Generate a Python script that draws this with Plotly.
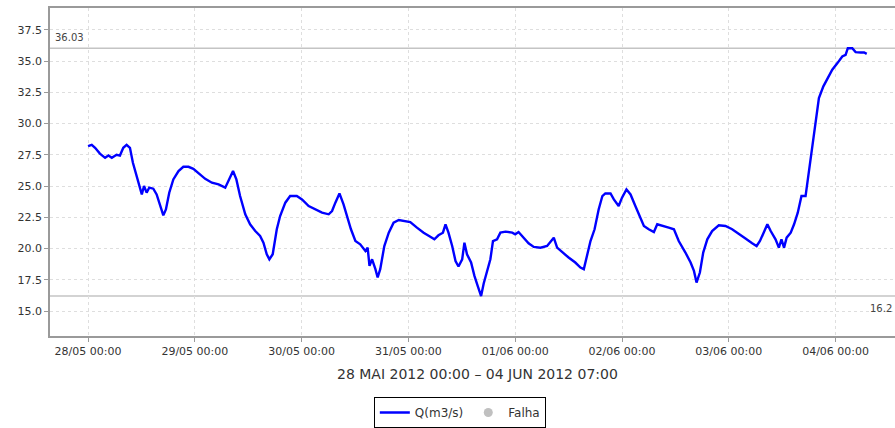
import plotly.graph_objects as go

# Vazão Q (m3/s), 28/05/2012 00:00 – 04/06/2012 07:00
times = [
    "2012-05-28 00:00", "2012-05-28 00:50", "2012-05-28 01:35", "2012-05-28 02:40", "2012-05-28 03:50",
    "2012-05-28 04:35", "2012-05-28 05:20", "2012-05-28 06:25", "2012-05-28 07:10", "2012-05-28 07:55",
    "2012-05-28 08:40", "2012-05-28 09:25", "2012-05-28 10:05", "2012-05-28 10:50", "2012-05-28 11:30",
    "2012-05-28 12:05", "2012-05-28 12:35", "2012-05-28 13:10", "2012-05-28 13:45", "2012-05-28 14:40",
    "2012-05-28 15:25", "2012-05-28 16:10", "2012-05-28 16:55", "2012-05-28 17:30", "2012-05-28 18:15",
    "2012-05-28 19:10", "2012-05-28 20:20", "2012-05-28 21:25", "2012-05-28 22:35", "2012-05-28 23:40",
    "2012-05-29 00:50", "2012-05-29 02:20", "2012-05-29 03:50", "2012-05-29 05:20", "2012-05-29 06:50",
    "2012-05-29 07:35", "2012-05-29 08:35", "2012-05-29 09:20", "2012-05-29 10:10", "2012-05-29 11:20",
    "2012-05-29 12:25", "2012-05-29 13:35", "2012-05-29 14:40", "2012-05-29 15:25", "2012-05-29 16:10",
    "2012-05-29 16:45", "2012-05-29 17:30", "2012-05-29 18:25", "2012-05-29 19:10", "2012-05-29 20:20",
    "2012-05-29 21:25", "2012-05-29 22:55", "2012-05-30 00:05", "2012-05-30 01:35", "2012-05-30 03:05",
    "2012-05-30 04:35", "2012-05-30 06:05", "2012-05-30 06:50", "2012-05-30 07:35", "2012-05-30 08:30",
    "2012-05-30 09:25", "2012-05-30 10:10", "2012-05-30 11:05", "2012-05-30 12:05", "2012-05-30 13:10",
    "2012-05-30 14:20", "2012-05-30 14:50", "2012-05-30 15:15", "2012-05-30 15:50", "2012-05-30 16:35",
    "2012-05-30 17:05", "2012-05-30 17:40", "2012-05-30 18:35", "2012-05-30 19:35", "2012-05-30 20:40",
    "2012-05-30 21:50", "2012-05-30 23:20", "2012-05-31 00:25", "2012-05-31 01:55", "2012-05-31 03:25",
    "2012-05-31 04:55", "2012-05-31 05:50", "2012-05-31 06:45", "2012-05-31 07:45", "2012-05-31 08:20",
    "2012-05-31 09:00", "2012-05-31 09:50", "2012-05-31 10:35", "2012-05-31 11:15", "2012-05-31 12:05",
    "2012-05-31 12:35", "2012-05-31 13:10", "2012-05-31 14:05", "2012-05-31 14:50", "2012-05-31 15:35",
    "2012-05-31 16:05", "2012-05-31 16:20", "2012-05-31 16:55", "2012-05-31 17:40", "2012-05-31 18:25",
    "2012-05-31 19:00", "2012-05-31 19:55", "2012-05-31 20:40", "2012-05-31 21:50", "2012-05-31 23:20",
    "2012-06-01 00:00", "2012-06-01 00:45", "2012-06-01 01:55", "2012-06-01 03:00", "2012-06-01 04:10",
    "2012-06-01 05:40", "2012-06-01 07:10", "2012-06-01 08:05", "2012-06-01 08:40", "2012-06-01 09:25",
    "2012-06-01 10:35", "2012-06-01 12:00", "2012-06-01 13:30", "2012-06-01 14:40", "2012-06-01 15:25",
    "2012-06-01 16:00", "2012-06-01 16:55", "2012-06-01 17:50", "2012-06-01 18:45", "2012-06-01 19:35",
    "2012-06-01 20:15", "2012-06-01 21:25", "2012-06-01 22:10", "2012-06-01 23:15", "2012-06-02 00:00",
    "2012-06-02 01:00", "2012-06-02 01:55", "2012-06-02 03:00", "2012-06-02 04:10", "2012-06-02 04:55",
    "2012-06-02 06:00", "2012-06-02 07:10", "2012-06-02 07:55", "2012-06-02 09:00", "2012-06-02 10:30",
    "2012-06-02 11:40", "2012-06-02 12:45", "2012-06-02 14:15", "2012-06-02 15:25", "2012-06-02 16:10",
    "2012-06-02 16:45", "2012-06-02 17:30", "2012-06-02 18:15", "2012-06-02 19:10", "2012-06-02 20:15",
    "2012-06-02 21:45", "2012-06-02 23:15", "2012-06-03 00:45", "2012-06-03 02:15", "2012-06-03 03:45",
    "2012-06-03 05:15", "2012-06-03 06:15", "2012-06-03 07:00", "2012-06-03 07:55", "2012-06-03 08:40",
    "2012-06-03 09:25", "2012-06-03 10:30", "2012-06-03 11:15", "2012-06-03 11:50", "2012-06-03 12:25",
    "2012-06-03 13:00", "2012-06-03 13:55", "2012-06-03 14:40", "2012-06-03 15:30", "2012-06-03 16:20",
    "2012-06-03 17:15", "2012-06-03 18:00", "2012-06-03 18:45", "2012-06-03 19:30", "2012-06-03 20:15",
    "2012-06-03 21:15", "2012-06-03 22:10", "2012-06-03 23:15", "2012-06-04 00:25", "2012-06-04 01:30",
    "2012-06-04 02:15", "2012-06-04 02:45", "2012-06-04 03:45", "2012-06-04 04:30", "2012-06-04 05:40",
    "2012-06-04 06:25", "2012-06-04 07:00",
]
q_values = [
    28.19, 28.30, 28.06, 27.60, 27.26,
    27.44, 27.26, 27.50, 27.44, 28.06,
    28.30, 28.06, 26.86, 25.93, 25.00,
    24.33, 25.00, 24.47, 24.87, 24.79,
    24.33, 23.40, 22.66, 23.13, 24.47,
    25.53, 26.20, 26.54, 26.54, 26.38,
    26.06, 25.58, 25.27, 25.13, 24.87,
    25.40, 26.20, 25.53, 24.20, 22.74,
    21.94, 21.40, 21.00, 20.47, 19.54,
    19.14, 19.54, 21.54, 22.60, 23.67,
    24.20, 24.20, 23.93, 23.40, 23.13,
    22.87, 22.74, 23.00, 23.67, 24.41,
    23.53, 22.60, 21.54, 20.60, 20.34,
    19.81, 20.07, 18.61, 19.14, 18.35,
    17.68, 18.35, 20.20, 21.27, 22.07,
    22.28, 22.20, 22.12, 21.67, 21.27,
    20.95, 20.74, 21.06, 21.27, 21.94,
    21.27, 20.20, 19.00, 18.56, 19.14,
    20.47, 19.54, 18.88, 17.81, 17.00,
    16.55, 16.20, 17.20, 18.10, 19.14,
    20.60, 20.74, 21.27, 21.35, 21.27,
    21.14, 21.32, 20.87, 20.42, 20.13,
    20.07, 20.20, 20.60, 20.87, 20.07,
    19.68, 19.28, 18.88, 18.48, 18.35,
    19.14, 20.60, 21.54, 23.13, 24.20,
    24.41, 24.41, 23.93, 23.40, 24.07,
    24.73, 24.33, 23.40, 22.47, 21.80,
    21.54, 21.32, 21.94, 21.80, 21.67,
    21.54, 20.60, 19.68, 18.88, 18.21,
    17.28, 18.08, 19.68, 20.74, 21.40,
    21.86, 21.80, 21.54, 21.14, 20.80,
    20.42, 20.20, 20.60, 21.40, 21.94,
    21.40, 20.74, 20.07, 20.74, 20.07,
    20.87, 21.27, 21.94, 22.87, 24.20,
    24.20, 26.06, 28.19, 30.05, 32.05,
    32.98, 33.65, 34.31, 34.84, 35.37,
    35.50, 36.03, 36.03, 35.72, 35.69,
    35.69, 35.58,
]
q_max = 36.03
q_min = 16.2
y_ticks = [15.0, 17.5, 20.0, 22.5, 25.0, 27.5, 30.0, 32.5, 35.0, 37.5]
axis_title = "28 MAI 2012 00:00 – 04 JUN 2012 07:00"

FONT = "DejaVu Sans"

fig = go.Figure()
fig.add_trace(go.Scatter(
    x=times, y=q_values, mode="lines", name="Q(m3/s)",
    line=dict(color="#0000ff", width=2.4),
))
fig.add_trace(go.Scatter(
    x=[None], y=[None], mode="markers", name="Falha",
    marker=dict(color="#c0c0c0", size=9, symbol="circle"),
))

for val in (q_max, q_min):
    fig.add_shape(type="line", xref="paper", yref="y", x0=0, x1=1, y0=val, y1=val,
                  line=dict(color="#c4c4c4", width=1.5), layer="below")

fig.add_annotation(xref="paper", yref="y", x=0.003, y=q_max, text=f"{q_max:.2f}",
                   showarrow=False, xanchor="left", yanchor="bottom", yshift=3,
                   font=dict(family=FONT, size=10, color="#444444"))
fig.add_annotation(xref="paper", yref="y", x=1.0, y=q_min, text=f"{q_min}",
                   showarrow=False, xanchor="right", yanchor="top", yshift=-5, xshift=-1,
                   font=dict(family=FONT, size=10, color="#444444"))

fig.add_annotation(xref="paper", yref="paper", x=0.5065, y=-0.1155, text=axis_title,
                   showarrow=False, xanchor="center", yanchor="middle",
                   font=dict(family=FONT, size=14, color="#333333"))

fig.update_layout(
    width=895, height=428,
    margin=dict(l=50, r=0, t=8, b=91),
    paper_bgcolor="white", plot_bgcolor="white",
    font=dict(family=FONT, size=11, color="#333333"),
    showlegend=True,
    legend=dict(
        orientation="h", xref="paper", yref="paper",
        x=0.485, xanchor="center", y=-0.185, yanchor="top",
        bordercolor="#000000", borderwidth=1, bgcolor="white",
        font=dict(family=FONT, size=12, color="#333333"),
        itemwidth=30, tracegroupgap=0,
    ),
    xaxis=dict(
        type="date",
        range=["2012-05-27 15:27", "2012-06-04 13:21"],
        tick0="2012-05-28 00:00", dtick=86400000,
        tickformat="%d/%m %H:%M",
        showgrid=True, gridcolor="#dedede", griddash="3px,3px", gridwidth=1,
        showline=True, linecolor="#9a9a9a", linewidth=1.5, mirror=True,
        ticks="outside", ticklen=4, tickcolor="#9a9a9a",
        tickfont=dict(family=FONT, size=11, color="#333333"),
        zeroline=False,
    ),
    yaxis=dict(
        range=[13.0, 39.25],
        tickvals=y_ticks, tickformat=".1f",
        showgrid=True, gridcolor="#dedede", griddash="3px,3px", gridwidth=1,
        showline=True, linecolor="#9a9a9a", linewidth=1.5,
        ticks="outside", ticklen=4, tickcolor="#9a9a9a",
        tickfont=dict(family=FONT, size=11, color="#333333"),
        zeroline=False,
    ),
)

fig.write_html(
    "out.html",
    config={"displayModeBar": False},
    post_script="document.body.style.margin='0';document.body.style.padding='0';"
                "document.body.style.overflow='hidden';"
                "document.documentElement.style.overflow='hidden';",
)
